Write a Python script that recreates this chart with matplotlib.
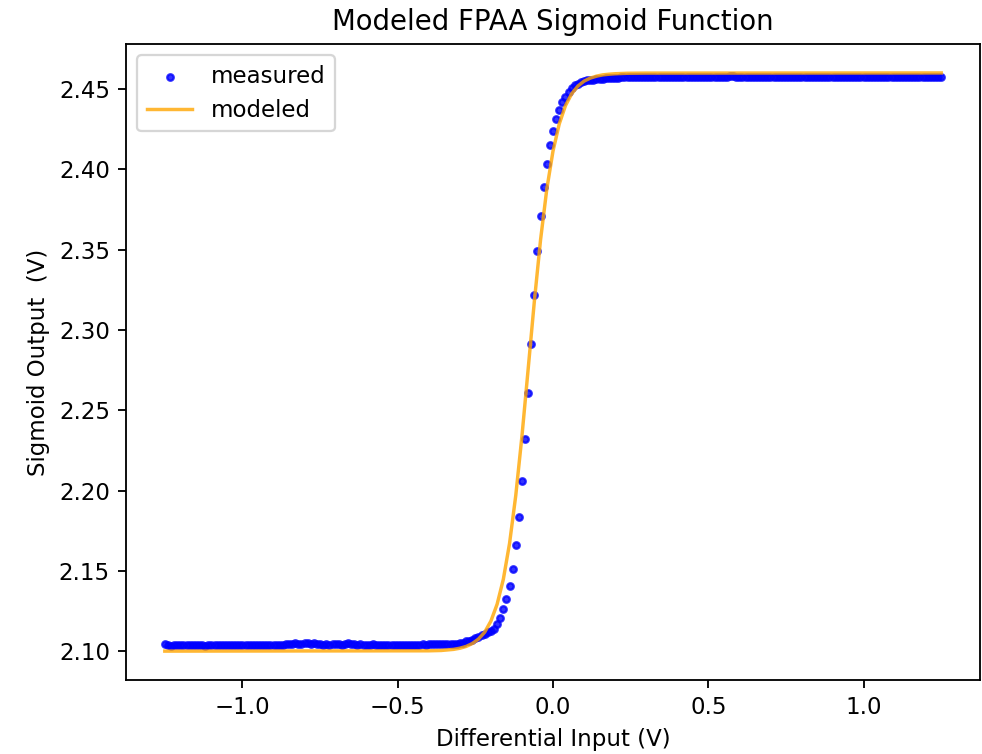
import numpy as np
import matplotlib
matplotlib.use("Agg")
import matplotlib.pyplot as plt

# measured sweep: -1.25 V .. 1.25 V in 10 mV steps
sweep_x = np.linspace(-1.25, 1.25, 251)

# measured output, low plateau (-1.25 .. -0.31)
measured_low = [
    2.1045, 2.1040, 2.1035, 2.1038, 2.1040, 2.1041, 2.1040, 2.1039, 2.1041, 2.1040,
    2.1040, 2.1039, 2.1038, 2.1035, 2.1038, 2.1036, 2.1040, 2.1041, 2.1040, 2.1039,
    2.1040, 2.1041, 2.1040, 2.1040, 2.1039, 2.1040, 2.1041, 2.1040, 2.1040, 2.1041,
    2.1040, 2.1039, 2.1040, 2.1041, 2.1040, 2.1036, 2.1038, 2.1040, 2.1041, 2.1042,
    2.1043, 2.1045, 2.1049, 2.1045, 2.1043, 2.1048, 2.1050, 2.1046, 2.1048, 2.1044,
    2.1042, 2.1041, 2.1042, 2.1041, 2.1042, 2.1043, 2.1042, 2.1041, 2.1044, 2.1048,
    2.1046, 2.1042, 2.1041, 2.1042, 2.1041, 2.1040, 2.1041, 2.1042, 2.1041, 2.1040,
    2.1040, 2.1041, 2.1040, 2.1036, 2.1039, 2.1040, 2.1041, 2.1040, 2.1041, 2.1040,
    2.1041, 2.1040, 2.1041, 2.1042, 2.1041, 2.1042, 2.1043, 2.1044, 2.1045, 2.1044,
    2.1045, 2.1046, 2.1046, 2.1047, 2.1047,
]

# measured output, transition (-0.30 .. 0.12)
measured_mid = [
    2.1048, 2.1052, 2.1060, 2.1064, 2.1070, 2.1080, 2.1090, 2.1100, 2.1108, 2.1116,
    2.1125, 2.1140, 2.1167, 2.1208, 2.1260, 2.1326, 2.1407, 2.1510, 2.1659, 2.1838,
    2.2059, 2.2318, 2.2609, 2.2911, 2.3219, 2.3491, 2.3712, 2.3890, 2.4030, 2.4152,
    2.4240, 2.4311, 2.4369, 2.4419, 2.4452, 2.4479, 2.4504, 2.4522, 2.4531, 2.4541,
    2.4547, 2.4553, 2.4556,
]

# measured output, high plateau (0.13 .. 1.25)
measured_high = [
    2.4558, 2.4561, 2.4563, 2.4565, 2.4567, 2.4568, 2.4569, 2.4570, 2.4571, 2.4572,
    2.4573, 2.4573, 2.4574, 2.4574, 2.4575, 2.4575, 2.4575, 2.4576, 2.4576, 2.4575,
    2.4575, 2.4576, 2.4576, 2.4576, 2.4575, 2.4576, 2.4576, 2.4577, 2.4576, 2.4576,
    2.4576, 2.4575, 2.4576, 2.4576, 2.4577, 2.4576, 2.4576, 2.4576, 2.4577, 2.4576,
    2.4576, 2.4577, 2.4576, 2.4576, 2.4579, 2.4578, 2.4577, 2.4577, 2.4576, 2.4576,
    2.4577, 2.4577, 2.4576, 2.4577, 2.4577, 2.4577, 2.4576, 2.4577, 2.4577, 2.4577,
    2.4577, 2.4576, 2.4577, 2.4577, 2.4577, 2.4577, 2.4577, 2.4576, 2.4577, 2.4577,
    2.4577, 2.4577, 2.4577, 2.4577, 2.4576, 2.4577, 2.4577, 2.4577, 2.4577, 2.4577,
    2.4577, 2.4577, 2.4576, 2.4577, 2.4577, 2.4577, 2.4577, 2.4577, 2.4577, 2.4577,
    2.4576, 2.4577, 2.4577, 2.4577, 2.4577, 2.4577, 2.4577, 2.4577, 2.4577, 2.4577,
    2.4577, 2.4576, 2.4577, 2.4577, 2.4577, 2.4577, 2.4577, 2.4577, 2.4577, 2.4577,
    2.4577, 2.4577, 2.4577,
]

measured_y = measured_low + measured_mid + measured_high

# modeled sigmoid
model_x = [
    -1.25, -0.40, -0.36, -0.32, -0.30, -0.28, -0.26, -0.24, -0.22, -0.20,
    -0.18, -0.16, -0.14, -0.12, -0.10, -0.08, -0.06, -0.04, -0.02, 0.00,
    0.02, 0.04, 0.06, 0.08, 0.10, 0.12, 0.14, 0.16, 0.18, 0.20,
    0.24, 0.30, 1.25,
]
model_y = [
    2.1000, 2.1002, 2.1004, 2.1011, 2.1018, 2.1029, 2.1047, 2.1075, 2.1118, 2.1187,
    2.1292, 2.1447, 2.1670, 2.1968, 2.2339, 2.2757, 2.3180, 2.3563, 2.3877, 2.4114,
    2.4282, 2.4396, 2.4470, 2.4518, 2.4549, 2.4568, 2.4580, 2.4588, 2.4592, 2.4595,
    2.4598, 2.4599, 2.4600,
]

DPI = 165
fig, ax = plt.subplots(figsize=(982 / DPI, 754 / DPI), dpi=DPI)
fig.subplots_adjust(left=0.1283, right=0.998, bottom=0.0981, top=0.9416)

ax.scatter(sweep_x, measured_y, s=8, color="blue", alpha=0.8, label="measured")
ax.plot(model_x, model_y, color="orange", alpha=0.8, label="modeled")

ax.set_title("Modeled FPAA Sigmoid Function")
ax.set_xlabel("Differential Input (V)")
ax.set_ylabel("Sigmoid Output  (V)")
ax.legend(loc="upper left")

fig.savefig("out.png", dpi=DPI)
